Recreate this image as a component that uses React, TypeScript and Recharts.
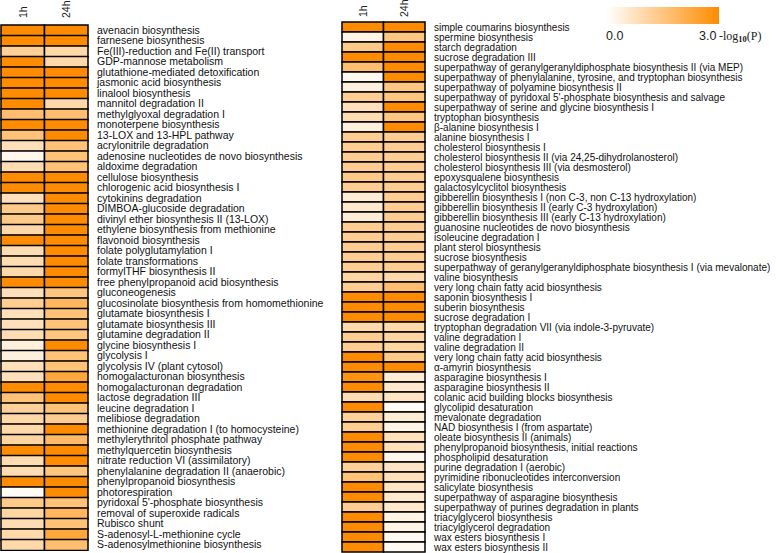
import { BarChart, Bar, XAxis, YAxis, Cell } from 'recharts'

// time points shown as column headers
const timePoints = ['1h', '24h']

// left panel
const leftPathways = [
  'avenacin biosynthesis',
  'farnesene biosynthesis',
  'Fe(III)-reduction and Fe(II) transport',
  'GDP-mannose metabolism',
  'glutathione-mediated detoxification',
  'jasmonic acid biosynthesis',
  'linalool biosynthesis',
  'mannitol degradation II',
  'methylglyoxal degradation I',
  'monoterpene biosynthesis',
  '13-LOX and 13-HPL pathway',
  'acrylonitrile degradation',
  'adenosine nucleotides de novo biosynthesis',
  'aldoxime degradation',
  'cellulose biosynthesis',
  'chlorogenic acid biosynthesis I',
  'cytokinins degradation',
  'DIMBOA-glucoside degradation',
  'divinyl ether biosynthesis II (13-LOX)',
  'ethylene biosynthesis from methionine',
  'flavonoid biosynthesis',
  'folate polyglutamylation I',
  'folate transformations',
  'formylTHF biosynthesis II',
  'free phenylpropanoid acid biosynthesis',
  'gluconeogenesis',
  'glucosinolate biosynthesis from homomethionine',
  'glutamate biosynthesis I',
  'glutamate biosynthesis III',
  'glutamine degradation II',
  'glycine biosynthesis I',
  'glycolysis I',
  'glycolysis IV (plant cytosol)',
  'homogalacturonan biosynthesis',
  'homogalacturonan degradation',
  'lactose degradation III',
  'leucine degradation I',
  'melibiose degradation',
  'methionine degradation I (to homocysteine)',
  'methylerythritol phosphate pathway',
  'methylquercetin biosynthesis',
  'nitrate reduction VI (assimilatory)',
  'phenylalanine degradation II (anaerobic)',
  'phenylpropanoid biosynthesis',
  'photorespiration',
  "pyridoxal 5'-phosphate biosynthesis",
  'removal of superoxide radicals',
  'Rubisco shunt',
  'S-adenosyl-L-methionine cycle',
  'S-adenosylmethionine biosynthesis',
]
const left1h = [
  3, 3, 1.2, 3, 3, 3, 3, 3, 1.7, 3,
  1.6, 0.8, 0.2, 0.9, 3, 3, 0.8, 1.4, 1.4, 1.0,
  3, 0.9, 0.9, 1.0, 3, 0.8, 1.3, 0.8, 0.8, 0.9,
  0.4, 0.4, 0.8, 0.8, 3, 1.6, 1.2, 1.0, 1.0, 1.1,
  3, 0.9, 0.9, 3, 0.1, 1.4, 1.1, 0.9, 1.0, 1.0,
]
const left24h = [
  3, 3, 1.0, 1.0, 3, 3, 3, 1.0, 1.7, 3,
  3, 1.6, 1.6, 1.6, 3, 3, 3, 3, 3, 3,
  3, 3, 3, 3, 3, 1.5, 1.9, 1.6, 1.6, 1.5,
  3, 1.6, 1.6, 2.3, 3, 3, 1.6, 1.3, 3, 1.8,
  3, 3, 1.5, 3, 3, 1.6, 1.9, 1.6, 2.3, 1.7,
]

// right panel
const rightPathways = [
  'simple coumarins biosynthesis',
  'spermine biosynthesis',
  'starch degradation',
  'sucrose degradation III',
  'superpathway of geranylgeranyldiphosphate biosynthesis II (via MEP)',
  'superpathway of phenylalanine, tyrosine, and tryptophan biosynthesis',
  'superpathway of polyamine biosynthesis II',
  "superpathway of pyridoxal 5'-phosphate biosynthesis and salvage",
  'superpathway of serine and glycine biosynthesis I',
  'tryptophan biosynthesis',
  'β-alanine biosynthesis I',
  'alanine biosynthesis I',
  'cholesterol biosynthesis I',
  'cholesterol biosynthesis II (via 24,25-dihydrolanosterol)',
  'cholesterol biosynthesis III (via desmosterol)',
  'epoxysqualene biosynthesis',
  'galactosylcyclitol biosynthesis',
  'gibberellin biosynthesis I (non C-3, non C-13 hydroxylation)',
  'gibberellin biosynthesis II (early C-3 hydroxylation)',
  'gibberellin biosynthesis III (early C-13 hydroxylation)',
  'guanosine nucleotides de novo biosynthesis',
  'isoleucine degradation I',
  'plant sterol biosynthesis',
  'sucrose biosynthesis',
  'superpathway of geranylgeranyldiphosphate biosynthesis I (via mevalonate)',
  'valine biosynthesis',
  'very long chain fatty acid biosynthesis',
  'saponin biosynthesis I',
  'suberin biosynthesis',
  'sucrose degradation I',
  'tryptophan degradation VII (via indole-3-pyruvate)',
  'valine degradation I',
  'valine degradation II',
  'very long chain fatty acid biosynthesis',
  'α-amyrin biosynthesis',
  'asparagine biosynthesis I',
  'asparagine biosynthesis II',
  'colanic acid building blocks biosynthesis',
  'glycolipid desaturation',
  'mevalonate degradation',
  'NAD biosynthesis I (from aspartate)',
  'oleate biosynthesis II (animals)',
  'phenylpropanoid biosynthesis, initial reactions',
  'phospholipid desaturation',
  'purine degradation I (aerobic)',
  'pyrimidine ribonucleotides interconversion',
  'salicylate biosynthesis',
  'superpathway of asparagine biosynthesis',
  'superpathway of purines degradation in plants',
  'triacylglycerol biosynthesis',
  'triacylglycerol degradation',
  'wax esters biosynthesis I',
  'wax esters biosynthesis II',
]
const right1h = [
  3, 0.3, 1.4, 3, 1.7, 0.15, 0.4, 1.3, 0.8, 0.9,
  0.4, 1.3, 1.3, 1.3, 1.3, 1.4, 1.3, 0.5, 0.6, 0.5,
  1.3, 1.3, 1.3, 1.3, 1.3, 1.1, 1.3, 3, 3, 3,
  1.0, 1.3, 1.3, 3, 3, 2.8, 3, 0.9, 3, 1.2,
  1.3, 3, 3, 3, 1.2, 1.6, 3, 3, 1.3, 3,
  3, 3, 3,
]
const right24h = [
  3, 1.5, 3, 3, 3, 3, 1.5, 1.5, 3, 1.5,
  3, 1.3, 1.3, 1.3, 1.3, 1.3, 1.3, 1.3, 1.3, 1.3,
  1.3, 1.3, 1.3, 1.3, 1.3, 1.0, 1.7, 3, 3, 3,
  1.0, 1.1, 1.1, 1.4, 3, 0.5, 0.6, 0.7, 0.1, 0.5,
  0.3, 0.8, 0.8, 0.2, 0.7, 0.8, 0.7, 0.6, 0.6, 0.3,
  0.3, 0.15, 0.15,
]

const MAX_P = 3
const FONT = '"Liberation Sans", Arial, sans-serif'

// white -> dark orange, clipped at 3.0
function heatColor(v: number) {
  const t = Math.max(0, Math.min(1, v / MAX_P))
  const g = Math.round(255 + (140 - 255) * t)
  const b = Math.round(255 - 255 * t)
  return `rgb(255,${g},${b})`
}

const HeaderTick = (props: any) => {
  const { x, payload, baseY } = props
  const label = timePoints[Math.floor(payload.value)]
  return (
    <text
      x={0}
      y={0}
      transform={`translate(${x + 4},${baseY}) rotate(-90)`}
      textAnchor="start"
      fontSize={10.5}
      fontFamily={FONT}
      fill="#222"
    >
      {label}
    </text>
  )
}

const NameTick = (props: any) => {
  const { x, y, payload, names, fontSize } = props
  return (
    <text x={x} y={y} dy="0.35em" textAnchor="start" fontSize={fontSize} fontFamily={FONT} fill="#111">
      {names[payload.value]}
    </text>
  )
}

interface PanelProps {
  names: string[]
  v1: number[]
  v24: number[]
  left: number
  top: number
  headerBase: number
  cellWidth: number
  labelWidth: number
  rowHeight: number
  fontSize: number
}

function HeatPanel({ names, v1, v24, left, top, headerBase, cellWidth, labelWidth, rowHeight, fontSize }: PanelProps) {
  const rows = names.map((name, i) => ({ idx: i, name, h1: 1, h24: 1, v1: v1[i], v24: v24[i] }))
  const height = top + rowHeight * names.length
  return (
    <div style={{ position: 'absolute', left: left - 1, top: 0 }}>
      <BarChart
        width={cellWidth + labelWidth + 1}
        height={height + 1}
        data={rows}
        layout="vertical"
        barCategoryGap={0}
        margin={{ top: 0, right: 0, bottom: 1, left: 1 }}
      >
        <XAxis
          type="number"
          orientation="top"
          domain={[0, 2]}
          ticks={[0.5, 1.5]}
          height={top}
          axisLine={false}
          tickLine={false}
          tick={<HeaderTick baseY={headerBase} />}
        />
        <YAxis
          type="category"
          dataKey="idx"
          orientation="right"
          width={labelWidth}
          axisLine={false}
          tickLine={false}
          tickSize={0}
          tickMargin={9}
          interval={0}
          tick={<NameTick names={names} fontSize={fontSize} />}
        />
        <Bar dataKey="h1" stackId="t" stroke="#000" strokeWidth={1.5} isAnimationActive={false}>
          {rows.map((r) => (
            <Cell key={`a${r.idx}`} fill={heatColor(r.v1)} />
          ))}
        </Bar>
        <Bar dataKey="h24" stackId="t" stroke="#000" strokeWidth={1.5} isAnimationActive={false}>
          {rows.map((r) => (
            <Cell key={`b${r.idx}`} fill={heatColor(r.v24)} />
          ))}
        </Bar>
      </BarChart>
    </div>
  )
}

function ColorKey() {
  return (
    <svg width={178} height={50} style={{ position: 'absolute', left: 600, top: 0 }}>
      <defs>
        <linearGradient id="keyGrad" x1="0" x2="1" y1="0" y2="0">
          <stop offset="0%" stopColor={heatColor(0)} />
          <stop offset="100%" stopColor={heatColor(MAX_P)} />
        </linearGradient>
      </defs>
      <rect x={6} y={7} width={113} height={17} fill="url(#keyGrad)" />
      <text x={6} y={40} fontSize={12.5} fontFamily={FONT} fill="#222">0.0</text>
      <text x={99} y={40} fontSize={12.5} fontFamily={FONT} fill="#222">3.0</text>
      <text x={119} y={40} fontSize={12} fontFamily='"Liberation Serif", "Times New Roman", serif' fill="#222">
        -log
        <tspan fontSize={8.5} fontWeight="bold" dy={2}>10</tspan>
        <tspan dy={-2}>(P)</tspan>
      </text>
    </svg>
  )
}

export default function App() {
  return (
    <div style={{ position: 'absolute', left: 0, top: 0, width: 778, height: 553, background: '#fff', overflow: 'hidden' }}>
      <HeatPanel
        names={leftPathways}
        v1={left1h}
        v24={left24h}
        left={1}
        top={25}
        headerBase={18}
        cellWidth={87}
        labelWidth={320}
        rowHeight={10.5}
        fontSize={10.5}
      />
      <HeatPanel
        names={rightPathways}
        v1={right1h}
        v24={right24h}
        left={342}
        top={22}
        headerBase={17}
        cellWidth={83}
        labelWidth={353}
        rowHeight={10}
        fontSize={10}
      />
      <ColorKey />
    </div>
  )
}
